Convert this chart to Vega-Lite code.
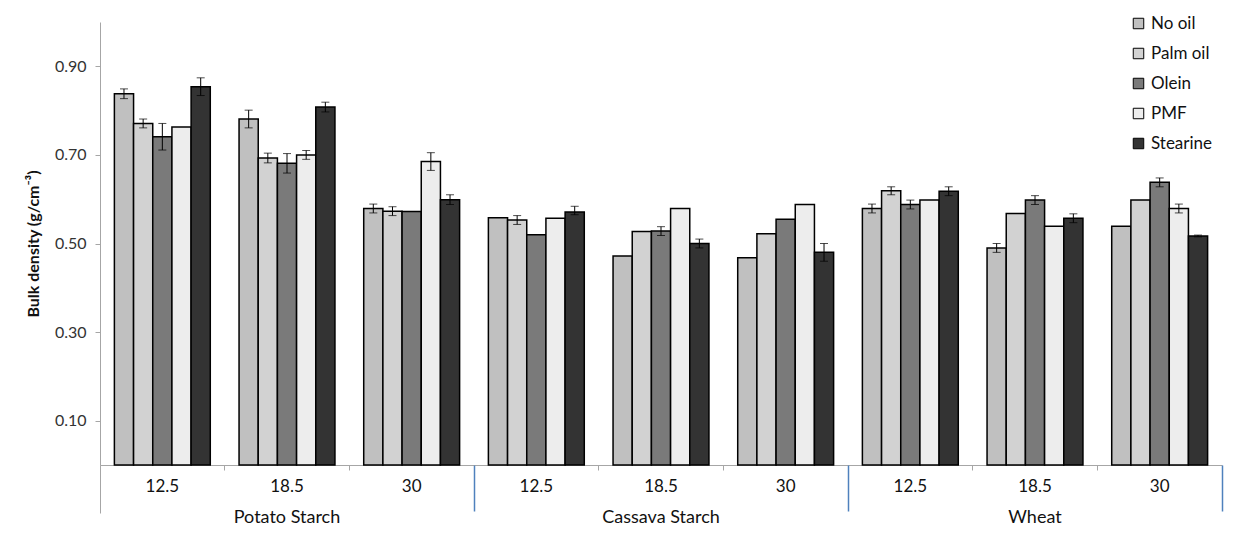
{
  "$schema": "https://vega.github.io/schema/vega-lite/v6.json",
  "autosize": {"type": "none"},
  "width": 1122,
  "height": 443,
  "padding": {"left": 100, "top": 22, "right": 18, "bottom": 90},
  "background": "white",
  "config": {
    "font": "Lato, 'Liberation Sans', sans-serif",
    "view": {"stroke": null},
    "axis": {"labelFont": "Lato, sans-serif", "titleFont": "Lato, sans-serif"},
    "legend": {"labelFont": "Lato, sans-serif"}
  },
  "data": {"values": [
    {"cat": "Potato Starch|12.5", "series": "No oil", "value": 0.838, "lo": 0.827, "hi": 0.849},
    {"cat": "Potato Starch|12.5", "series": "Palm oil", "value": 0.771, "lo": 0.761, "hi": 0.781},
    {"cat": "Potato Starch|12.5", "series": "Olein", "value": 0.741, "lo": 0.711, "hi": 0.771},
    {"cat": "Potato Starch|12.5", "series": "PMF", "value": 0.763},
    {"cat": "Potato Starch|12.5", "series": "Stearine", "value": 0.854, "lo": 0.834, "hi": 0.874},
    {"cat": "Potato Starch|18.5", "series": "No oil", "value": 0.781, "lo": 0.761, "hi": 0.801},
    {"cat": "Potato Starch|18.5", "series": "Palm oil", "value": 0.693, "lo": 0.682, "hi": 0.704},
    {"cat": "Potato Starch|18.5", "series": "Olein", "value": 0.681, "lo": 0.659, "hi": 0.703},
    {"cat": "Potato Starch|18.5", "series": "PMF", "value": 0.700, "lo": 0.690, "hi": 0.710},
    {"cat": "Potato Starch|18.5", "series": "Stearine", "value": 0.808, "lo": 0.797, "hi": 0.819},
    {"cat": "Potato Starch|30", "series": "No oil", "value": 0.579, "lo": 0.569, "hi": 0.589},
    {"cat": "Potato Starch|30", "series": "Palm oil", "value": 0.573, "lo": 0.563, "hi": 0.583},
    {"cat": "Potato Starch|30", "series": "Olein", "value": 0.572},
    {"cat": "Potato Starch|30", "series": "PMF", "value": 0.685, "lo": 0.665, "hi": 0.705},
    {"cat": "Potato Starch|30", "series": "Stearine", "value": 0.599, "lo": 0.588, "hi": 0.610},
    {"cat": "Cassava Starch|12.5", "series": "No oil", "value": 0.558},
    {"cat": "Cassava Starch|12.5", "series": "Palm oil", "value": 0.553, "lo": 0.543, "hi": 0.563},
    {"cat": "Cassava Starch|12.5", "series": "Olein", "value": 0.520},
    {"cat": "Cassava Starch|12.5", "series": "PMF", "value": 0.557},
    {"cat": "Cassava Starch|12.5", "series": "Stearine", "value": 0.571, "lo": 0.565, "hi": 0.584},
    {"cat": "Cassava Starch|18.5", "series": "No oil", "value": 0.472},
    {"cat": "Cassava Starch|18.5", "series": "Palm oil", "value": 0.527},
    {"cat": "Cassava Starch|18.5", "series": "Olein", "value": 0.528, "lo": 0.518, "hi": 0.538},
    {"cat": "Cassava Starch|18.5", "series": "PMF", "value": 0.579},
    {"cat": "Cassava Starch|18.5", "series": "Stearine", "value": 0.500, "lo": 0.490, "hi": 0.510},
    {"cat": "Cassava Starch|30", "series": "No oil", "value": 0.468},
    {"cat": "Cassava Starch|30", "series": "Palm oil", "value": 0.522},
    {"cat": "Cassava Starch|30", "series": "Olein", "value": 0.555},
    {"cat": "Cassava Starch|30", "series": "PMF", "value": 0.588},
    {"cat": "Cassava Starch|30", "series": "Stearine", "value": 0.480, "lo": 0.460, "hi": 0.500},
    {"cat": "Wheat|12.5", "series": "No oil", "value": 0.579, "lo": 0.569, "hi": 0.589},
    {"cat": "Wheat|12.5", "series": "Palm oil", "value": 0.619, "lo": 0.610, "hi": 0.628},
    {"cat": "Wheat|12.5", "series": "Olein", "value": 0.588, "lo": 0.578, "hi": 0.598},
    {"cat": "Wheat|12.5", "series": "PMF", "value": 0.598},
    {"cat": "Wheat|12.5", "series": "Stearine", "value": 0.618, "lo": 0.608, "hi": 0.628},
    {"cat": "Wheat|18.5", "series": "No oil", "value": 0.490, "lo": 0.480, "hi": 0.500},
    {"cat": "Wheat|18.5", "series": "Palm oil", "value": 0.568},
    {"cat": "Wheat|18.5", "series": "Olein", "value": 0.598, "lo": 0.588, "hi": 0.608},
    {"cat": "Wheat|18.5", "series": "PMF", "value": 0.539},
    {"cat": "Wheat|18.5", "series": "Stearine", "value": 0.557, "lo": 0.547, "hi": 0.567},
    {"cat": "Wheat|30", "series": "No oil", "value": 0.539},
    {"cat": "Wheat|30", "series": "Palm oil", "value": 0.598},
    {"cat": "Wheat|30", "series": "Olein", "value": 0.638, "lo": 0.628, "hi": 0.648},
    {"cat": "Wheat|30", "series": "PMF", "value": 0.579, "lo": 0.569, "hi": 0.589},
    {"cat": "Wheat|30", "series": "Stearine", "value": 0.517, "lo": 0.515, "hi": 0.519}
  ]},
  "resolve": {"axis": {"x": "independent", "y": "independent"}},
  "layer": [
    {
      "mark": {"type": "bar", "stroke": "black", "strokeWidth": 1.5},
      "encoding": {
        "x": {"field": "cat", "type": "nominal", "sort": null,
          "scale": {"type": "band", "paddingInner": 0, "paddingOuter": 0,
            "domain": ["Potato Starch|12.5","Potato Starch|18.5","Potato Starch|30","Cassava Starch|12.5","Cassava Starch|18.5","Cassava Starch|30","Wheat|12.5","Wheat|18.5","Wheat|30"]},
          "axis": {"orient": "bottom", "title": null, "labelAngle": 0, "labelExpr": "split(datum.value, '|')[1]",
            "bandPosition": 0, "tickSize": 5, "tickColor": "#a6a6a6", "domainColor": "#a6a6a6",
            "labelFontSize": 17, "labelColor": "#111", "labelPadding": 8}},
        "xOffset": {"field": "series", "type": "nominal",
          "scale": {"domain": ["No oil","Palm oil","Olein","PMF","Stearine"], "paddingInner": 0, "paddingOuter": 0.75}},
        "y": {"field": "value", "type": "quantitative",
          "scale": {"domain": [0, 1.0], "nice": false, "zero": true},
          "axis": {"orient": "left", "title": "Bulk density (g/cm⁻³)", "values": [0.1, 0.3, 0.5, 0.7, 0.9], "format": ".2f",
            "grid": false, "tickSize": 5, "tickColor": "#a6a6a6", "domainColor": "#a6a6a6",
            "labelFontSize": 16, "labelColor": "#333", "labelPadding": 9,
            "titleFontSize": 16, "titleFontWeight": "bold", "titleColor": "#111", "titlePadding": 13}},
        "fill": {"field": "series", "type": "nominal",
          "scale": {"domain": ["No oil","Palm oil","Olein","PMF","Stearine"],
            "range": ["#c0c0c0", "#d2d2d2", "#7a7a7a", "#ededed", "#333333"]},
          "legend": {"orient": "none", "legendX": 1030, "legendY": -7, "title": null,
            "symbolType": "square", "symbolSize": 110, "symbolStrokeColor": "black", "symbolStrokeWidth": 1,
            "labelFontSize": 17, "labelColor": "#111", "rowPadding": 12, "labelOffset": 4}}
      }
    },
    {
      "transform": [{"filter": "isValid(datum.lo)"}],
      "mark": {"type": "rule", "color": "black", "strokeWidth": 1},
      "encoding": {
        "x": {"field": "cat", "type": "nominal", "sort": null,
          "scale": {"type": "band", "paddingInner": 0, "paddingOuter": 0},
          "axis": {"orient": "bottom", "title": null, "labelAngle": 0, "ticks": false, "domain": false,
            "values": ["Potato Starch|18.5", "Cassava Starch|18.5", "Wheat|18.5"],
            "labelExpr": "split(datum.value, '|')[0]", "labelFontSize": 18, "labelColor": "#111", "labelPadding": 43}},
        "xOffset": {"field": "series", "type": "nominal",
          "scale": {"domain": ["No oil","Palm oil","Olein","PMF","Stearine"], "paddingInner": 0, "paddingOuter": 0.75}},
        "y": {"field": "lo", "type": "quantitative", "axis": null},
        "y2": {"field": "hi"}
      }
    },
    {
      "transform": [{"filter": "isValid(datum.lo)"}],
      "mark": {"type": "tick", "color": "black", "size": 8, "thickness": 1, "orient": "horizontal"},
      "encoding": {
        "x": {"field": "cat", "type": "nominal", "sort": null,
          "scale": {"type": "band", "paddingInner": 0, "paddingOuter": 0},
          "axis": {"orient": "bottom", "title": null, "labels": false, "domain": false,
            "values": ["Potato Starch|30", "Cassava Starch|30", "Wheat|30"],
            "bandPosition": 1, "tickSize": 46, "tickColor": "#4f81bd", "tickWidth": 1.5}},
        "xOffset": {"field": "series", "type": "nominal",
          "scale": {"domain": ["No oil","Palm oil","Olein","PMF","Stearine"], "paddingInner": 0, "paddingOuter": 0.75}},
        "y": {"field": "lo", "type": "quantitative", "axis": null}
      }
    },
    {
      "transform": [{"filter": "isValid(datum.lo)"}],
      "mark": {"type": "tick", "color": "black", "size": 8, "thickness": 1, "orient": "horizontal"},
      "encoding": {
        "x": {"field": "cat", "type": "nominal", "sort": null,
          "scale": {"type": "band", "paddingInner": 0, "paddingOuter": 0},
          "axis": {"orient": "bottom", "title": null, "labels": false, "domain": false,
            "values": ["Potato Starch|12.5"],
            "bandPosition": 0, "tickSize": 48, "tickColor": "#a6a6a6", "tickWidth": 1}},
        "xOffset": {"field": "series", "type": "nominal",
          "scale": {"domain": ["No oil","Palm oil","Olein","PMF","Stearine"], "paddingInner": 0, "paddingOuter": 0.75}},
        "y": {"field": "hi", "type": "quantitative", "axis": null}
      }
    }
  ]
}
